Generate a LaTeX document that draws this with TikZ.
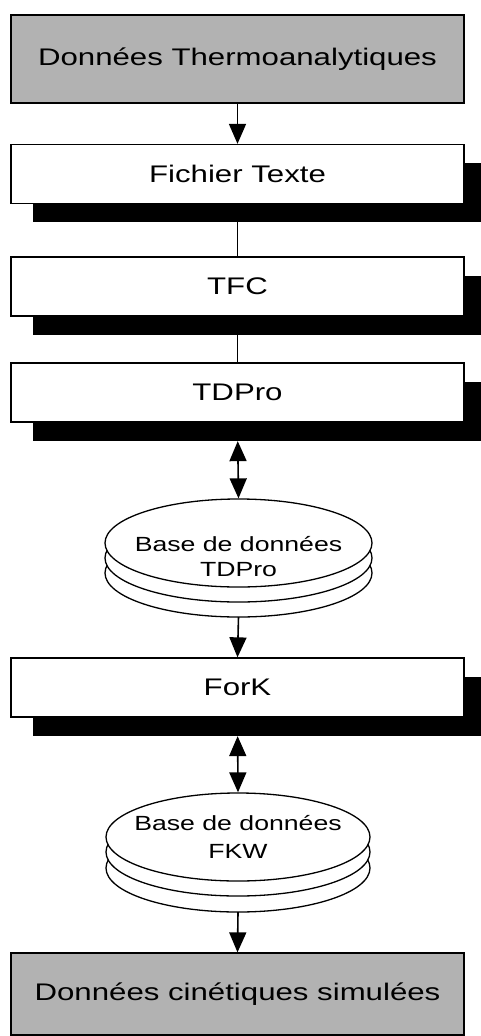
\documentclass[tikz,border=0pt]{standalone}
\usepackage{fontspec}
\newfontfamily\arialx{Liberation Sans}[FakeStretch=1.3]
\usetikzlibrary{arrows.meta,shapes.geometric,shadows}
\begin{document}
\begin{tikzpicture}[x=1pt,y=-1pt,
  box/.style={draw=black,line width=1.3pt,minimum width=453pt,minimum height=59pt,inner sep=0pt,fill=white,font=\arialx\fontsize{24}{26}\selectfont},
  endbox/.style={box,fill=black!30,minimum height=88pt},
  shdw/.style={drop shadow={shadow xshift=22pt,shadow yshift=-18.5pt,fill=black,opacity=1}},
  link/.style={line width=1.6pt},
  arr/.style={link,-{Triangle[length=20pt,width=17pt]}},
  darr/.style={link,{Triangle[length=20pt,width=17pt]}-{Triangle[length=20pt,width=17pt]}},
  disk/.style={ellipse,draw,line width=1.3pt,fill=white,minimum width=267pt,minimum height=88pt,inner sep=0pt},
  diskline/.style={draw,line width=1.3pt,fill=white},
  dbtext/.style={font=\arialx\fontsize{20.5}{24}\selectfont,align=center,inner sep=0pt}
]
\useasboundingbox (0,0) rectangle (481,1036);

% boxes
\node[endbox] (thermo) at (237.5,59) {Données Thermoanalytiques};
\node[box,shdw] (fichier) at (237.5,174) {Fichier Texte};
\node[box,shdw] (tfc) at (237.5,286.5) {TFC};
\node[box,shdw] (tdpro) at (237.5,392.5) {TDPro};

% database 1
\draw[diskline] (238.5,573) ellipse [x radius=133.5, y radius=44];
\draw[diskline] (238.5,558) ellipse [x radius=133.5, y radius=44];
\node[disk] (db1) at (238.5,543) {};
\coordinate (db1b) at (238.5,617);
\node[dbtext] (db1txt) at (238.5,557) {Base de données\\[1pt]TDPro};

\node[box,shdw] (fork) at (237.5,687.5) {ForK};

% database 2
\draw[diskline] (238,868) ellipse [x radius=132, y radius=44];
\draw[diskline] (238,852) ellipse [x radius=132, y radius=44];
\node[disk,minimum width=264pt] (db2) at (238,837) {};
\coordinate (db2b) at (238,912);
\node[dbtext] (db2txt) at (238,837) {Base de données\\[4pt]FKW};

\node[endbox,minimum height=82pt] (sim) at (237.5,994) {Données cinétiques simulées};

% connectors
\draw[arr] (thermo) -- (fichier);
\draw[link] (fichier) -- (tfc);
\draw[link] (tfc) -- (tdpro);
\draw[darr,shorten <=18.5pt] (tdpro.south) -- (db1.north);
\draw[arr] (db1b) -- (fork.north);
\draw[darr,shorten <=18.5pt] (fork.south) -- (db2.north);
\draw[arr] (db2b) -- (sim.north);
\end{tikzpicture}
\end{document}
